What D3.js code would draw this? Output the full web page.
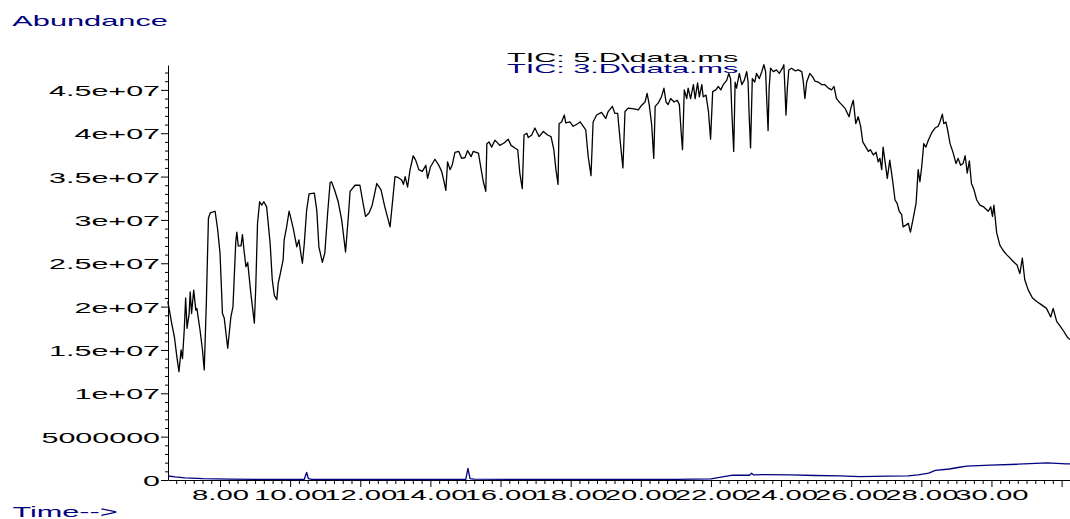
<!DOCTYPE html>
<html><head><meta charset="utf-8">
<script src="https://cdn.jsdelivr.net/npm/d3@7"></script>
<style>html,body{margin:0;padding:0;background:#fff;} svg{display:block;}</style>
</head><body><svg id="chart" width="1070" height="519"></svg>
<script>
// ---- data (time in minutes, abundance in millions) ----
const tic5Time = [6.51,6.57,6.62,6.70,6.77,6.83,6.89,6.93,6.98,7.02,7.06,7.12,7.15,7.19,7.25,7.31,7.34,7.43,7.50,7.55,7.61,7.67,7.72,7.86,7.93,8.00,8.07,8.12,8.22,8.31,8.37,8.45,8.48,8.52,8.60,8.64,8.69,8.74,8.79,8.88,8.98,9.02,9.07,9.13,9.19,9.25,9.33,9.43,9.49,9.55,9.62,9.66,9.71,9.76,9.80,9.83,9.90,9.97,10.02,10.09,10.19,10.25,10.31,10.35,10.40,10.47,10.54,10.69,10.76,10.82,10.92,10.99,11.07,11.14,11.18,11.28,11.37,11.47,11.58,11.66,11.71,11.85,11.99,12.09,12.15,12.25,12.34,12.47,12.59,12.70,12.85,12.99,13.08,13.18,13.23,13.28,13.35,13.42,13.51,13.58,13.67,13.77,13.87,13.92,14.00,14.13,14.24,14.32,14.38,14.44,14.49,14.56,14.62,14.70,14.81,14.89,14.99,15.06,15.16,15.22,15.37,15.44,15.51,15.58,15.61,15.67,15.75,15.84,15.98,16.11,16.22,16.30,16.41,16.49,16.55,16.62,16.67,16.75,16.79,16.89,16.98,17.10,17.22,17.34,17.44,17.52,17.58,17.64,17.67,17.74,17.82,17.86,17.98,18.07,18.20,18.27,18.36,18.43,18.50,18.58,18.64,18.74,18.88,19.00,19.07,19.19,19.26,19.34,19.41,19.49,19.55,19.64,19.81,19.93,20.02,20.12,20.18,20.24,20.31,20.37,20.41,20.50,20.59,20.66,20.72,20.78,20.85,20.95,21.04,21.10,21.15,21.19,21.24,21.31,21.35,21.42,21.50,21.55,21.62,21.67,21.74,21.78,21.86,21.93,21.99,22.05,22.14,22.21,22.28,22.35,22.45,22.51,22.56,22.60,22.65,22.69,22.73,22.81,22.88,22.95,23.02,23.06,23.09,23.13,23.18,23.25,23.30,23.38,23.45,23.51,23.56,23.59,23.63,23.66,23.70,23.78,23.87,23.95,24.04,24.08,24.11,24.14,24.18,24.22,24.30,24.40,24.49,24.59,24.63,24.68,24.73,24.82,24.90,24.97,25.06,25.16,25.25,25.35,25.44,25.51,25.58,25.68,25.82,25.94,25.99,26.06,26.13,26.20,26.27,26.33,26.39,26.49,26.55,26.63,26.71,26.77,26.82,26.87,26.91,26.96,27.03,27.10,27.18,27.25,27.31,27.37,27.44,27.48,27.56,27.63,27.69,27.77,27.85,27.91,27.96,28.01,28.07,28.13,28.20,28.29,28.39,28.48,28.53,28.60,28.64,28.70,28.74,28.82,28.91,28.99,29.05,29.12,29.19,29.25,29.31,29.37,29.43,29.50,29.58,29.67,29.78,29.91,29.98,30.03,30.07,30.15,30.24,30.33,30.43,30.53,30.62,30.73,30.81,30.88,30.95,31.05,31.17,31.29,31.43,31.57,31.69,31.76,31.86,31.97,32.07,32.16,32.24];
const tic5AbundMillions = [20.6,19.3,18.1,16.5,14.2,12.5,15.0,14.0,17.3,21.0,17.5,19.2,21.7,19.2,21.9,19.6,19.8,17.3,15.0,12.7,20.4,30.2,30.8,31.0,29.0,26.2,19.2,18.7,15.2,18.8,20.0,27.5,28.6,27.0,27.0,28.3,26.3,24.6,25.1,21.5,18.1,22.3,29.6,32.1,31.7,32.1,31.5,27.3,23.1,21.3,20.8,22.7,23.6,24.6,25.4,27.7,29.2,31.0,30.2,29.0,26.9,27.7,26.0,25.0,27.1,31.1,33.0,33.1,31.1,26.9,25.1,26.2,30.8,34.3,34.4,33.3,32.1,30.0,26.3,30.4,33.3,34.0,34.0,31.7,30.4,30.8,31.7,34.2,33.5,31.5,29.2,35.0,34.9,34.6,34.1,35.0,33.8,35.8,37.4,36.9,35.8,35.6,36.3,34.8,36.1,37.0,36.3,35.6,34.6,33.4,36.7,35.8,36.3,37.8,37.9,37.1,37.2,38.0,37.3,37.9,37.7,36.0,34.4,33.3,38.8,39.0,38.4,39.2,38.6,38.9,39.3,38.6,38.3,38.1,35.4,33.6,39.8,40.0,39.5,39.8,40.6,39.6,40.2,39.8,39.6,38.1,35.8,34.1,41.1,41.3,42.1,41.2,41.3,40.8,41.1,41.3,40.8,40.4,37.3,35.1,41.3,42.1,42.4,41.7,42.5,43.1,42.3,42.3,39.2,36.0,42.5,42.9,42.8,42.7,43.2,43.6,44.6,43.3,41.0,37.1,43.1,43.5,44.2,45.2,43.6,43.3,44.0,43.6,43.8,43.3,40.2,38.1,45.0,44.0,45.2,44.0,45.6,44.0,45.8,44.2,45.6,44.2,44.4,42.5,39.3,44.8,45.0,45.4,45.0,45.6,46.1,46.9,46.3,42.1,37.9,45.9,45.2,46.9,45.6,46.1,47.1,45.9,42.1,38.3,46.3,45.9,46.9,46.3,47.1,47.9,47.1,44.0,40.3,45.2,47.5,47.1,47.3,46.9,47.5,47.9,45.2,42.1,45.2,47.3,47.5,47.2,47.3,47.1,46.1,44.0,45.9,46.9,46.5,46.0,45.9,45.6,45.6,45.2,45.0,45.4,44.0,43.5,42.9,41.9,42.9,43.8,41.1,41.9,40.8,39.0,38.6,37.9,38.1,37.5,37.8,36.7,37.1,35.8,38.4,36.9,34.8,36.9,34.6,32.3,31.9,31.0,30.6,29.2,29.4,29.6,28.6,30.2,31.9,35.8,34.4,36.1,38.8,38.4,39.2,40.0,40.6,40.8,41.3,42.2,41.1,41.3,40.6,38.8,37.7,36.5,37.1,36.3,36.5,37.4,35.4,36.8,34.2,33.5,32.3,31.7,31.5,31.0,31.5,30.4,31.7,28.5,27.1,26.5,26.0,25.6,25.2,24.8,23.8,25.6,23.1,21.9,21.0,20.6,20.2,19.8,18.8,19.8,18.3,17.7,17.1,16.5,16.2];
const tic3Time = [6.52,6.72,7.00,7.52,8.29,9.71,10.40,10.47,10.52,10.62,11.71,13.13,15.01,15.07,15.13,15.24,17.00,19.00,21.00,22.00,22.33,22.62,23.10,23.16,23.22,23.51,24.29,24.97,25.66,26.25,27.03,27.62,27.91,28.21,28.40,28.80,29.09,29.29,29.97,30.76,31.59,32.13,32.24];
const tic3AbundMillions = [0.46,0.35,0.25,0.15,0.09,0.07,0.06,0.87,0.17,0.08,0.06,0.06,0.08,1.33,0.17,0.09,0.07,0.07,0.08,0.12,0.36,0.56,0.55,0.79,0.58,0.63,0.60,0.52,0.48,0.40,0.44,0.48,0.60,0.79,1.11,1.27,1.47,1.59,1.71,1.82,1.98,1.86,1.86];
const xMajorTicks = [8,10,12,14,16,18,20,22,24,26,28,30,32];
const xTickLabels = ["8.00","10.00","12.00","14.00","16.00","18.00","20.00","22.00","24.00","26.00","28.00","30.00",""];
const yMajorTicks = [0,5e6,1e7,1.5e7,2e7,2.5e7,3e7,3.5e7,4e7,4.5e7];
const yTickLabels = ["0","5000000","1e+07","1.5e+07","2e+07","2.5e+07","3e+07","3.5e+07","4e+07","4.5e+07"];
const legendLabels = ["TIC: 5.D\\data.ms","TIC: 3.D\\data.ms"];
const seriesColors = ["#000000","#000080"];
const MILLION = 1e6;

// ---- drawing ----
const FONT = "'Liberation Sans', Arial, Helvetica, sans-serif";
const NAVY = "#000080";
const svg = d3.select("#chart");
const x = d3.scaleLinear().domain([6.517, 32.24]).range([168, 1070]);
const y = d3.scaleLinear().domain([0, 4.787e7]).range([480, 65]);

const tic5 = tic5Time.map((t,i)=>({t, v: tic5AbundMillions[i]*MILLION}));
const tic3 = tic3Time.map((t,i)=>({t, v: tic3AbundMillions[i]*MILLION}));

// minor ticks
const xMinor = d3.range(27, 129).filter(i => i % 8 !== 0).map(i => i/4);
const yMinor = d3.range(1, 48).filter(i => i % 5 !== 0).map(i => i*MILLION);

const gxMinor = svg.append("g").attr("transform","translate(0,480)")
  .call(d3.axisBottom(x).tickValues(xMinor).tickSize(4).tickSizeOuter(0).tickFormat(""));
gxMinor.select(".domain").remove();
const gyMinor = svg.append("g").attr("transform","translate(168,0)")
  .call(d3.axisLeft(y).tickValues(yMinor).tickSize(3).tickSizeOuter(0).tickFormat(""));
gyMinor.select(".domain").remove();

const gx = svg.append("g").attr("transform","translate(0,480)")
  .call(d3.axisBottom(x).tickValues(xMajorTicks).tickSize(7).tickSizeOuter(0)
    .tickFormat((d,i)=>xTickLabels[i]));
gx.selectAll("text").attr("y",null).attr("dy",null)
  .attr("font-size",15).attr("font-family",FONT).attr("fill","#000")
  .attr("transform","translate(0,19.5) scale(1.95,1)");

const gy = svg.append("g").attr("transform","translate(168,0)")
  .call(d3.axisLeft(y).tickValues(yMajorTicks).tickSize(7).tickSizeOuter(0)
    .tickFormat((d,i)=>yTickLabels[i]));
gy.selectAll("text").attr("x",null).attr("dy",null)
  .attr("font-size",15).attr("font-family",FONT).attr("fill","#000")
  .attr("transform","translate(-8,5.5) scale(2.03,1)");

svg.selectAll(".tick line, .domain").attr("stroke","#000").attr("stroke-width",1);

const line = d3.line().x(d=>x(d.t)).y(d=>y(d.v));
svg.append("path").datum(tic3).attr("d",line).attr("fill","none")
  .attr("stroke",seriesColors[1]).attr("stroke-width",1.3).attr("stroke-linejoin","round");
svg.append("path").datum(tic5).attr("d",line).attr("fill","none")
  .attr("stroke",seriesColors[0]).attr("stroke-width",1.3).attr("stroke-linejoin","round");

// labels
svg.append("text").text("Abundance").attr("font-family",FONT).attr("font-size",15)
  .attr("fill",NAVY).attr("transform","translate(12.3,25.7) scale(2.05,1)");
svg.append("text").text("Time-->").attr("font-family",FONT).attr("font-size",15)
  .attr("fill",NAVY).attr("transform","translate(12.5,517) scale(2.04,1)");

legendLabels.forEach((lab,i)=>{
  svg.append("text").text(lab).attr("font-family",FONT).attr("font-size",12.5)
    .attr("fill",seriesColors[i])
    .attr("transform",`translate(507,${61.7 + i*11}) scale(2.45,1)`);
});
</script></body></html>
